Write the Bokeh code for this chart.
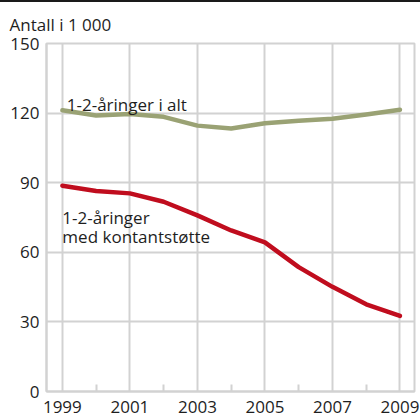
from bokeh.plotting import figure
from bokeh.models import Range1d, FixedTicker, Label
from bokeh.embed import file_html
from bokeh.resources import INLINE

# Data
years = [1999, 2000, 2001, 2002, 2003, 2004, 2005, 2006, 2007, 2008, 2009]
alle = [121.2, 119.0, 119.6, 118.4, 114.6, 113.4, 115.6, 116.7, 117.6, 119.4, 121.4]
kontant = [88.7, 86.4, 85.4, 81.8, 75.9, 69.4, 64.3, 53.6, 45.1, 37.6, 32.6]
y_ticks = [0, 30, 60, 90, 120, 150]
x_major = [1999, 2001, 2003, 2005, 2007, 2009]
x_minor = [2000, 2002, 2004, 2006, 2008]
title_text = "Antall i 1 000"
label_alle = "1-2-åringer i alt"
label_k1 = "1-2-åringer"
label_k2 = "med kontantstøtte"

FONT = "Open Sans"
FS = "17px"
TXT = "#1e1e1e"
GRID = "#d2d2d2"
GREEN = "#9aa274"
RED = "#c00d1e"

W, H = 420, 416
BL, BR, BT, BB = 46, 6, 41, 27

p = figure(width=W, height=H, output_backend="svg", toolbar_location=None,
           x_range=Range1d(1998.53, 2009.43), y_range=Range1d(0, 150),
           min_border_left=BL, min_border_right=BR, min_border_top=BT, min_border_bottom=BB,
           title=title_text)
p.styles = {"border-top": "2px solid #1a1a1a"}
p.title.align = "left"
p.title.offset = -(BL - 9)
p.title.text_font = FONT
p.title.text_font_size = FS
p.title.text_font_style = "normal"
p.title.text_color = TXT
p.title.text_line_height = 0.8
p.title.standoff = 15

p.background_fill_color = "white"
p.border_fill_color = "white"
p.outline_line_color = GRID
p.outline_line_width = 2

# axes
p.xaxis.ticker = FixedTicker(ticks=x_major, minor_ticks=x_minor)
p.yaxis.ticker = FixedTicker(ticks=y_ticks)
for ax in (p.xaxis, p.yaxis):
    ax.axis_line_color = GRID
    ax.axis_line_width = 2
    ax.major_tick_line_color = None
    ax.major_tick_out = 0
    ax.major_tick_in = 0
    ax.major_label_text_font = FONT
    ax.major_label_text_font_size = FS
    ax.major_label_text_color = TXT
p.xaxis.minor_tick_line_color = GRID
p.xaxis.minor_tick_line_width = 2
p.xaxis.minor_tick_in = 7
p.xaxis.minor_tick_out = 0
p.xaxis.major_label_standoff = 9
p.yaxis.minor_tick_line_color = None
p.yaxis.minor_tick_out = 0
p.yaxis.major_label_standoff = 7

p.xgrid.ticker = FixedTicker(ticks=x_major)
p.ygrid.ticker = FixedTicker(ticks=y_ticks)
for g in (p.xgrid, p.ygrid):
    g.grid_line_color = GRID
    g.grid_line_width = 2

p.line(years, alle, line_color=GREEN, line_width=4.5, line_cap="round", line_join="round")
p.line(years, kontant, line_color=RED, line_width=4.5, line_cap="round", line_join="round")

lbl_kw = dict(text_font=FONT, text_font_size=FS, text_color=TXT, text_baseline="alphabetic")
p.add_layout(Label(x=1999.13, y=123.9, text=label_alle, **lbl_kw))
p.add_layout(Label(x=1999.0, y=75.0, text=label_k1, **lbl_kw))
p.add_layout(Label(x=1999.0, y=66.9, text=label_k2, **lbl_kw))

open("out.html", "w").write(file_html(p, INLINE))
